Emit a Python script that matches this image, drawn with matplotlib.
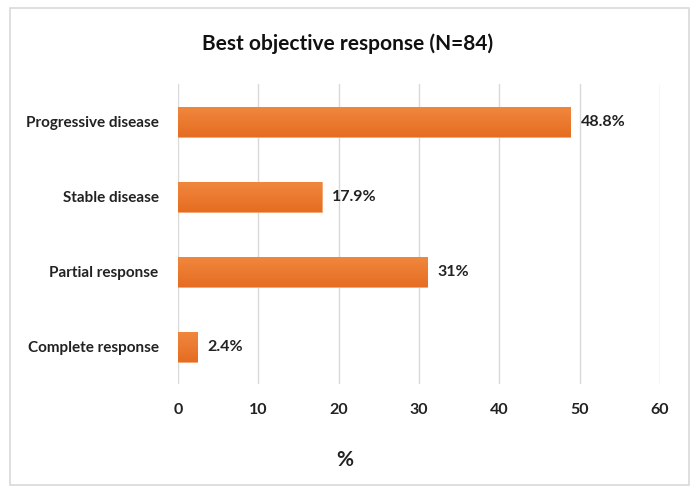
import matplotlib
matplotlib.use("Agg")
import numpy as np
import matplotlib.pyplot as plt
from matplotlib.colors import LinearSegmentedColormap
from matplotlib.patches import Rectangle

categories = ["Complete response", "Partial response", "Stable disease", "Progressive disease"]
values = [2.4, 31, 17.9, 48.8]
labels = ["2.4%", "31%", "17.9%", "48.8%"]
xticks = [0, 10, 20, 30, 40, 50, 60]

plt.rcParams["font.family"] = ["Lato", "DejaVu Sans"]
plt.rcParams["font.weight"] = "bold"

fig = plt.figure(figsize=(6.96, 4.87), dpi=100)
ax = fig.add_axes([0.2557, 0.2115, 0.6925, 0.616])

# outer chart frame
fig.patches.append(Rectangle((0.014, 0.004), 0.976, 0.98, transform=fig.transFigure,
                             fill=False, edgecolor="#d9d9d9", linewidth=1.2))

ypos = range(len(categories))
bars = ax.barh(ypos, values, height=0.4, color="#ED7D31", edgecolor="#F4A56F",
               linewidth=0.6, zorder=3)

# soft vertical shading on each bar
shade = LinearSegmentedColormap.from_list("shade", ["#F0873D", "#E56D22"])
grad = np.linspace(0, 1, 64).reshape(-1, 1)
for b in bars:
    x0, y0, w, h = b.get_x(), b.get_y(), b.get_width(), b.get_height()
    im = ax.imshow(grad, cmap=shade, aspect="auto", origin="lower",
                   extent=(x0, x0 + w, y0 + h, y0), zorder=3.5)
    im.set_clip_path(b)

for b, lab in zip(bars, labels):
    ax.text(b.get_width() + 1.3, b.get_y() + b.get_height() / 2, lab,
            va="center", ha="left", fontsize=11.5, fontweight="bold", color="#222222")

ax.set_xlim(0, 60)
ax.set_ylim(-0.5, 3.5)
ax.set_xticks(xticks)
ax.set_yticks(list(ypos))
ax.set_yticklabels(categories)
ax.grid(axis="x", color="#d9d9d9", linewidth=1, zorder=0)
for s in ax.spines.values():
    s.set_visible(False)
ax.tick_params(axis="y", length=0, pad=14, labelsize=11, labelcolor="#222222")
ax.tick_params(axis="x", length=0, pad=14, labelsize=11.5, labelcolor="#222222")

fig.text(0.495, 0.055, "%", ha="center", va="center",
         fontsize=15, fontweight="bold", color="#222222")
fig.text(0.5, 0.91, "Best objective response (N=84)", ha="center", va="center",
         fontsize=15, fontweight="bold", color="#111111")

fig.savefig("out.png", dpi=100)
